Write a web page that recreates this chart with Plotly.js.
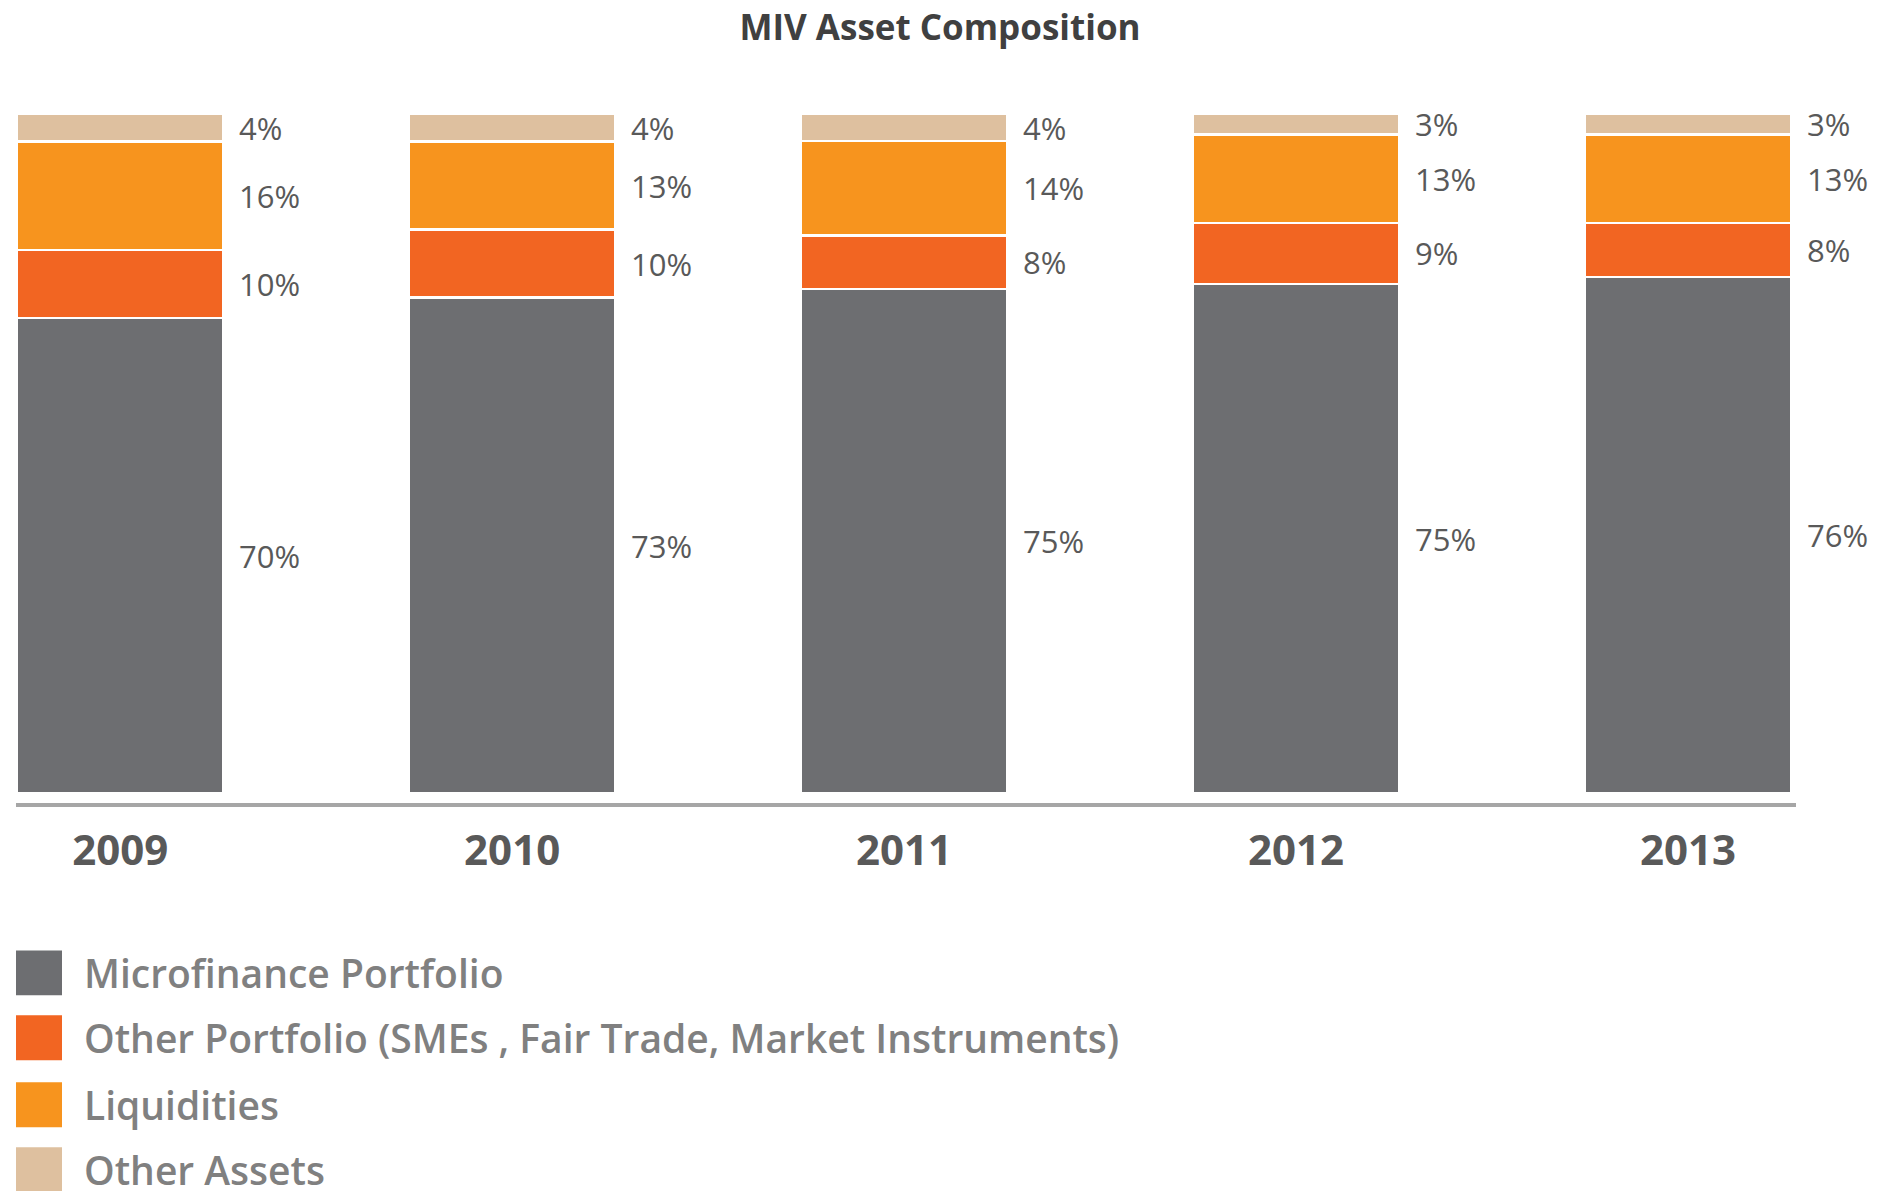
<!DOCTYPE html>
<html>
<head>
<meta charset="utf-8">
<script src="https://cdn.plot.ly/plotly-3.0.1.min.js"></script>
<style>
  html, body { margin: 0; padding: 0; background: #ffffff; }
  #chart { width: 1880px; height: 1191px; }
</style>
</head>
<body>
<div id="chart"></div>
<script>
// ---- Data ----
const years = ['2009', '2010', '2011', '2012', '2013'];
const microfinancePortfolio = [70, 73, 75, 75, 76];
const otherPortfolio = [10, 10, 8, 9, 8];
const liquidities = [16, 13, 14, 13, 13];
const otherAssets = [4, 4, 4, 3, 3];

const seriesNames = [
  'Microfinance Portfolio',
  'Other Portfolio (SMEs , Fair Trade, Market Instruments)',
  'Liquidities',
  'Other Assets'
];
const seriesColors = ['#6d6e71', '#f26522', '#f7941e', '#dec09f'];
const seriesValues = [microfinancePortfolio, otherPortfolio, liquidities, otherAssets];

// ---- Layout geometry ----
const W = 1880, H = 1191;
const M = { l: 16, r: 84, t: 102, b: 387.5 };
const PW = W - M.l - M.r, PH = H - M.t - M.b;
const barWidth = 0.527;
const paperX = px => (px - M.l) / PW;
const paperY = py => (H - M.b - py) / PH;

// totals per year (bars drawn as shares of 100)
const totals = years.map((_, i) => seriesValues.reduce((s, arr) => s + arr[i], 0));

const traces = seriesValues.map((vals, k) => ({
  type: 'bar',
  x: years,
  y: vals,
  name: seriesNames[k],
  width: barWidth,
  marker: { color: seriesColors[k], line: { color: '#ffffff', width: 2.5 } },
  hoverinfo: 'skip',
  showlegend: false
}));

// ---- Value labels to the right of each segment ----
const annotations = [];
years.forEach((yr, i) => {
  let base = 0;
  seriesValues.forEach((vals, k) => {
    const share = vals[i] / totals[i] * 100;
    annotations.push({
      xref: 'x', yref: 'y',
      x: i + barWidth / 2, y: base + share / 2,
      xanchor: 'left', yanchor: 'middle',
      xshift: 14,
      text: vals[i] + '%',
      showarrow: false,
      font: { family: 'Open Sans', size: 31, color: '#595959' }
    });
    base += share;
  });
});

// ---- Legend (large swatches) ----
const legendTops = [951, 1016, 1083, 1148];
const swatch = 45;
const shapes = [];
seriesNames.forEach((nm, k) => {
  const top = legendTops[k];
  shapes.push({
    type: 'rect', xref: 'paper', yref: 'paper',
    x0: paperX(16), x1: paperX(62),
    y0: paperY(top + swatch), y1: paperY(top),
    fillcolor: seriesColors[k], line: { width: 0 }
  });
  annotations.push({
    xref: 'paper', yref: 'paper',
    x: paperX(82), y: paperY(top + swatch / 2),
    xanchor: 'left', yanchor: 'middle',
    text: nm, showarrow: false,
    font: { family: 'Open Sans', size: 39, weight: 600, color: '#808080' }
  });
});

const layout = {
  width: W, height: H,
  margin: M,
  paper_bgcolor: '#ffffff',
  plot_bgcolor: '#ffffff',
  barmode: 'stack',
  barnorm: 'percent',
  showlegend: false,
  title: {
    text: 'MIV Asset Composition',
    font: { family: 'Open Sans', size: 35, weight: 700, color: '#404040' },
    xref: 'container', x: 0.5, xanchor: 'center',
    yref: 'container', y: 1 - 15 / H, yanchor: 'top'
  },
  xaxis: {
    type: 'category',
    range: [-0.2658, 4.2755],
    showgrid: false, zeroline: false,
    showline: true, linecolor: '#a6a6a6', linewidth: 4,
    ticks: '',
    ticklabelstandoff: 8,
    tickfont: { family: 'Open Sans', size: 42, weight: 700, color: '#595959' },
    fixedrange: true
  },
  yaxis: {
    range: [-1.405, 101.8],
    visible: false,
    showgrid: false, zeroline: false,
    fixedrange: true
  },
  annotations: annotations,
  shapes: shapes
};

Plotly.newPlot('chart', traces, layout, { displayModeBar: false, staticPlot: true });
</script>
</body>
</html>
